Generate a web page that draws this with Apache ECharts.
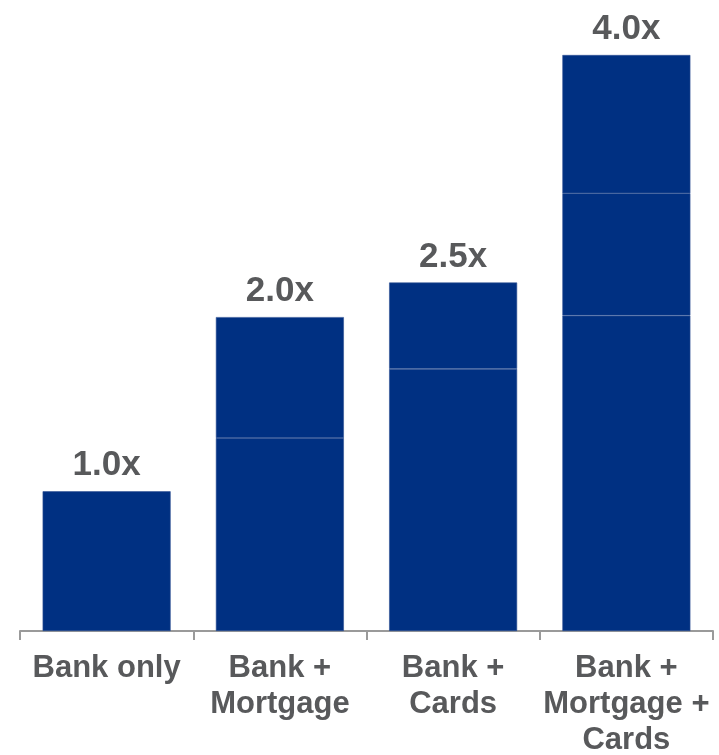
<!DOCTYPE html>
<html>
<head>
<meta charset="utf-8">
<script src="https://cdn.jsdelivr.net/npm/echarts@6/dist/echarts.min.js"></script>
<style>
  html, body { margin: 0; padding: 0; background: #fff; }
  #chart { width: 719px; height: 755px; }
</style>
</head>
<body>
<div id="chart"></div>
<script>
// categories and values (units on a hidden axis, tallest bar = 4.0)
var categories = ['Bank only', 'Bank +\nMortgage', 'Bank +\nCards', 'Bank +\nMortgage +\nCards'];
var segment1 = [0.97, 1.34, 1.82, 2.19];
var segment2 = ['-', 0.84, 0.60, 0.85];
var segment3 = ['-', '-', '-', 0.96];
var totalLabels = ['1.0x', '2.0x', '2.5x', '4.0x'];

var barColor = '#003082';
var textColor = '#58595b';

function segSeries(name, data) {
    return {
        name: name,
        type: 'bar',
        stack: 'total',
        barWidth: 128,
        itemStyle: {
            color: barColor,
            borderColor: '#2f5193',
            borderWidth: 0.6
        },
        data: data
    };
}

var option = {
    animation: false,
    grid: {
        left: 20,
        right: 6,
        top: 55,
        bottom: 124,
        outerBoundsMode: 'none'
    },
    xAxis: {
        type: 'category',
        data: categories,
        axisLine: { lineStyle: { color: '#9a9a9a', width: 2 } },
        axisTick: { show: true, length: 9, lineStyle: { color: '#9a9a9a', width: 2 } },
        axisLabel: {
            color: textColor,
            fontFamily: 'Liberation Sans, Arial, sans-serif',
            fontWeight: 'bold',
            fontSize: 31,
            lineHeight: 36,
            margin: 19,
            interval: 0
        }
    },
    yAxis: {
        type: 'value',
        min: 0,
        max: 4,
        show: false
    },
    series: [
        segSeries('s1', segment1),
        segSeries('s2', segment2),
        segSeries('s3', segment3),
        {
            name: 'total',
            type: 'bar',
            stack: 'total',
            barWidth: 128,
            itemStyle: { color: 'transparent' },
            label: {
                show: true,
                position: 'top',
                distance: 8,
                color: textColor,
                fontFamily: 'Liberation Sans, Arial, sans-serif',
                fontWeight: 'bold',
                fontSize: 35,
                formatter: function (p) { return totalLabels[p.dataIndex]; }
            },
            data: [0, 0, 0, 0]
        }
    ]
};

var myChart = echarts.init(document.getElementById('chart'));
myChart.setOption(option);
</script>
</body>
</html>
